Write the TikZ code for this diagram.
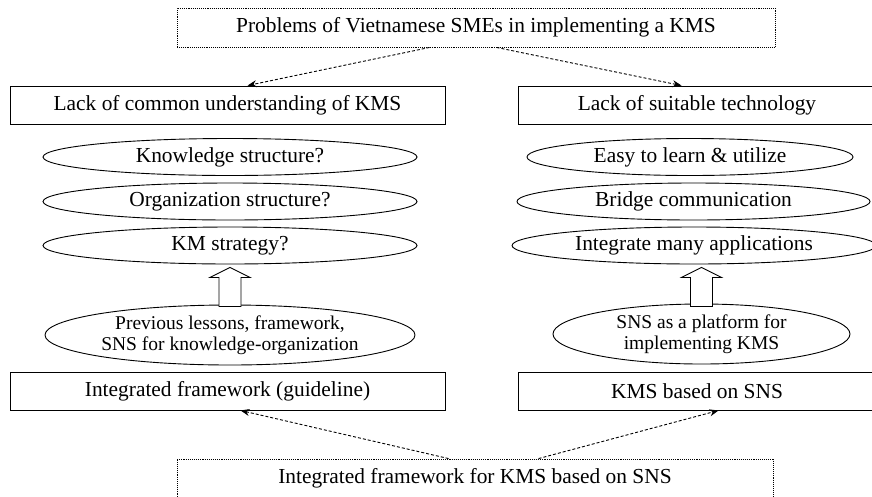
\documentclass[tikz,border=0pt]{standalone}
\usepackage{fontspec}
\setmainfont{Liberation Serif}
\usetikzlibrary{shapes.geometric,arrows.meta}
\begin{document}
\begin{tikzpicture}[x=1pt,y=-1pt,
  basefont/.style={font=\fontsize{21.4}{24}\selectfont},
  box/.style={draw=black, line width=0.9pt, inner sep=0pt, basefont},
  dbox/.style={box, densely dotted},
  oval/.style={ellipse, draw=black, line width=0.9pt, inner sep=0pt, basefont},
  bigoval/.style={oval, align=center, font=\fontsize{19.5}{21}\selectfont},
  link/.style={-{Stealth[length=9pt,width=7pt]}, densely dashed, line width=0.9pt},
  blockarrow/.style={draw=black, line width=0.9pt, fill=white, line join=miter}]
\useasboundingbox (0,0) rectangle (872,496);

% boxes
\node[dbox, minimum width=598pt, minimum height=39pt] (top) at (476,27.5)
  {Problems of Vietnamese SMEs in implementing a KMS};
\node[box, minimum width=435pt, minimum height=38pt] (lackL) at (227.5,105)
  {Lack of common understanding of KMS};
\node[box, minimum width=358pt, minimum height=38pt] (lackR) at (697,105)
  {Lack of suitable technology};

% ellipses left
\node[oval, minimum width=374pt, minimum height=37pt] (e1L) at (230,157) {Knowledge structure?};
\node[oval, minimum width=374pt, minimum height=37pt] (e2L) at (230,201.5) {Organization structure?};
\node[oval, minimum width=374pt, minimum height=37pt] (e3L) at (230,245.5) {KM strategy?};
% ellipses right
\node[oval, minimum width=326pt, minimum height=37pt] (e1R) at (690,157) {Easy to learn \& utilize};
\node[oval, minimum width=353pt, minimum height=37pt] (e2R) at (693.5,201.5) {Bridge communication};
\node[oval, minimum width=364pt, minimum height=37pt] (e3R) at (694,245.5) {Integrate many applications};

% lower ellipses
\node[bigoval, minimum width=370pt, minimum height=60pt] (bL) at (230,335)
  {Previous lessons, framework,\\SNS for knowledge-organization};
\node[bigoval, minimum width=297pt, minimum height=60pt] (bR) at (701.5,334)
  {SNS as a platform for\\implementing KMS};

% lower boxes
\node[box, minimum width=435pt, minimum height=38pt] (fbL) at (227.5,391)
  {Integrated framework (guideline)};
\node[box, minimum width=358pt, minimum height=38pt] (fbR) at (697,391)
  {KMS based on SNS};
\node[dbox, minimum width=596pt, minimum height=38pt] (bottom) at (475,478)
  {Integrated framework for KMS based on SNS};

% connectors
\draw[link] ([xshift=253pt]top.south west) -- ([xshift=238pt]lackL.north west);
\draw[link] ([xshift=320pt]top.south west) -- ([xshift=164pt]lackR.north west);
\draw[link] ([xshift=272pt]bottom.north west) -- ([xshift=231pt]fbL.south west);
\draw[link] ([xshift=362pt]bottom.north west) -- ([xshift=201pt]fbR.south west);

% block arrows
\path (bL.north |- e3L.south) ++(0,3) coordinate (aLtip);
\path (bR.north |- e3R.south) ++(0,3) coordinate (aRtip);
\draw[blockarrow] (aLtip) -- ++(20,10) -- ++(-9,0) -- ++(0,29) -- ++(-22,0)
  -- ++(0,-29) -- ++(-9,0) -- cycle;
\draw[blockarrow] (aRtip) -- ++(20,10) -- ++(-9,0) -- ++(0,29) -- ++(-22,0)
  -- ++(0,-29) -- ++(-9,0) -- cycle;
\end{tikzpicture}
\end{document}
